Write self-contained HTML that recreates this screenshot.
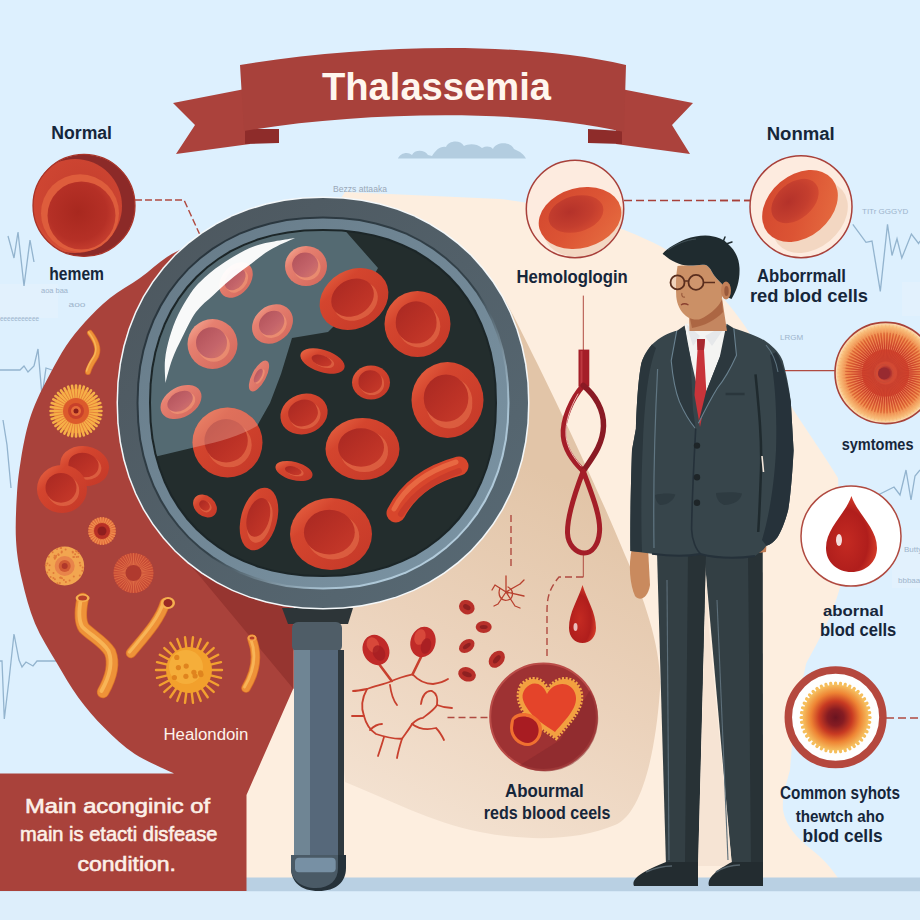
<!DOCTYPE html>
<html><head><meta charset="utf-8">
<style>
html,body{margin:0;padding:0;width:920px;height:920px;overflow:hidden;background:#ddf0fe;}
svg{display:block;}
text{font-family:"Liberation Sans",sans-serif;}
</style></head>
<body>
<svg width="920" height="920" viewBox="0 0 920 920">
<defs>
  <radialGradient id="rbc" cx="0.45" cy="0.45" r="0.55">
    <stop offset="0" stop-color="#b3302a"/>
    <stop offset="0.5" stop-color="#c23a2d"/>
    <stop offset="0.72" stop-color="#e4653f"/>
    <stop offset="0.86" stop-color="#d74a31"/>
    <stop offset="1" stop-color="#c63d2c"/>
  </radialGradient>
  <radialGradient id="rbcL" cx="0.45" cy="0.45" r="0.55">
    <stop offset="0" stop-color="#b85a55"/>
    <stop offset="0.5" stop-color="#c66258"/>
    <stop offset="0.72" stop-color="#e98a70"/>
    <stop offset="0.86" stop-color="#d86a55"/>
    <stop offset="1" stop-color="#cc5c4c"/>
  </radialGradient>
  <radialGradient id="big1" cx="0.45" cy="0.55" r="0.55">
    <stop offset="0" stop-color="#a92a22"/>
    <stop offset="0.55" stop-color="#b8342a"/>
    <stop offset="0.75" stop-color="#e0603f"/>
    <stop offset="0.9" stop-color="#cf4530"/>
    <stop offset="1" stop-color="#c23b2c"/>
  </radialGradient>
  <radialGradient id="sun" cx="0.5" cy="0.5" r="0.5">
    <stop offset="0" stop-color="#9a2a2e"/>
    <stop offset="0.1" stop-color="#a83030"/>
    <stop offset="0.16" stop-color="#d24a34"/>
    <stop offset="0.5" stop-color="#d4442c"/>
    <stop offset="0.75" stop-color="#ec7a3c"/>
    <stop offset="0.92" stop-color="#f8c07c"/>
    <stop offset="1" stop-color="#fde6c4"/>
  </radialGradient>
  <radialGradient id="spot" cx="0.5" cy="0.5" r="0.5">
    <stop offset="0" stop-color="#6a1420"/>
    <stop offset="0.25" stop-color="#861c22"/>
    <stop offset="0.5" stop-color="#c83a22"/>
    <stop offset="0.75" stop-color="#ee8434"/>
    <stop offset="1" stop-color="#f6c060"/>
  </radialGradient>
  <radialGradient id="drop" cx="0.4" cy="0.6" r="0.6">
    <stop offset="0" stop-color="#c42a22"/>
    <stop offset="0.7" stop-color="#b01e1c"/>
    <stop offset="1" stop-color="#d23a28"/>
  </radialGradient>
  <linearGradient id="creamg" x1="0" y1="0" x2="0" y2="1">
    <stop offset="0" stop-color="#fbe9d9"/>
    <stop offset="1" stop-color="#fcefe3"/>
  </linearGradient>
  <linearGradient id="bandg" x1="0" y1="0" x2="1" y2="1">
    <stop offset="0" stop-color="#667a87"/><stop offset="1" stop-color="#7c95a5"/>
  </linearGradient>
  <linearGradient id="cO" x1="0" y1="0" x2="1" y2="1">
    <stop offset="0" stop-color="#ec6c48"/><stop offset="0.3" stop-color="#d4452e"/><stop offset="1" stop-color="#c43828"/>
  </linearGradient>
  <linearGradient id="cI" x1="0" y1="0" x2="1" y2="1">
    <stop offset="0" stop-color="#a82822"/><stop offset="0.6" stop-color="#bc3226"/><stop offset="1" stop-color="#c83a2a"/>
  </linearGradient>
  <linearGradient id="cOL" x1="0" y1="0" x2="1" y2="1">
    <stop offset="0" stop-color="#f9b49c"/><stop offset="0.3" stop-color="#e68070"/><stop offset="1" stop-color="#d2665a"/>
  </linearGradient>
  <linearGradient id="cIL" x1="0" y1="0" x2="1" y2="1">
    <stop offset="0" stop-color="#b05058"/><stop offset="0.6" stop-color="#c4646a"/><stop offset="1" stop-color="#d8786c"/>
  </linearGradient>
  <linearGradient id="r1g" x1="0" y1="0" x2="1" y2="1">
    <stop offset="0" stop-color="#4c565d"/><stop offset="1" stop-color="#586a75"/>
  </linearGradient>
  <linearGradient id="r2g" x1="0" y1="0" x2="1" y2="1">
    <stop offset="0" stop-color="#26323a"/><stop offset="0.55" stop-color="#34424a"/><stop offset="0.75" stop-color="#a8c2d2"/><stop offset="1" stop-color="#c0d8e8"/>
  </linearGradient>
  <linearGradient id="shadg" gradientUnits="userSpaceOnUse" x1="600" y1="500" x2="440" y2="830">
    <stop offset="0" stop-color="#e2c5a8"/><stop offset="0.5" stop-color="#ebd2bb"/><stop offset="1" stop-color="#f3e1d0"/>
  </linearGradient>
  <radialGradient id="c1g" cx="0.6" cy="0.4" r="0.7">
    <stop offset="0" stop-color="#c43e2e"/><stop offset="0.8" stop-color="#cf4632"/><stop offset="1" stop-color="#e2603e"/>
  </radialGradient>
  <radialGradient id="c1i" cx="0.45" cy="0.45" r="0.6">
    <stop offset="0" stop-color="#a8281f"/><stop offset="0.7" stop-color="#b53026"/><stop offset="1" stop-color="#c84030"/>
  </radialGradient>
  <linearGradient id="bigO" x1="0" y1="0" x2="1" y2="1">
    <stop offset="0" stop-color="#d2462e"/><stop offset="0.5" stop-color="#dc5434"/><stop offset="0.85" stop-color="#e4683e"/><stop offset="1" stop-color="#c84030"/>
  </linearGradient>
  <radialGradient id="bigI" cx="0.4" cy="0.4" r="0.7">
    <stop offset="0" stop-color="#b4322a"/><stop offset="0.6" stop-color="#c43e2e"/><stop offset="1" stop-color="#d64c32"/>
  </radialGradient>
  <clipPath id="lensclip"><path d="M495.0 403.0 L494.4 421.7 L492.6 438.0 L489.7 453.3 L485.5 467.9 L480.3 481.6 L473.9 494.6 L466.5 506.8 L458.0 518.1 L448.5 528.5 L438.1 538.0 L426.8 546.5 L414.6 553.9 L401.6 560.3 L387.9 565.5 L373.3 569.7 L358.0 572.6 L341.7 574.4 L323.0 575.0 L304.3 574.4 L288.0 572.6 L272.7 569.7 L258.1 565.5 L244.4 560.3 L231.4 553.9 L219.2 546.5 L207.9 538.0 L197.5 528.5 L188.0 518.1 L179.5 506.8 L172.1 494.6 L165.7 481.6 L160.5 467.9 L156.3 453.3 L153.4 438.0 L151.6 421.7 L151.0 403.0 L151.6 384.3 L153.4 368.0 L156.3 352.7 L160.5 338.1 L165.7 324.4 L172.1 311.4 L179.5 299.2 L188.0 287.9 L197.5 277.5 L207.9 268.0 L219.2 259.5 L231.4 252.1 L244.4 245.7 L258.1 240.5 L272.7 236.3 L288.0 233.4 L304.3 231.6 L323.0 231.0 L341.7 231.6 L358.0 233.4 L373.3 236.3 L387.9 240.5 L401.6 245.7 L414.6 252.1 L426.8 259.5 L438.1 268.0 L448.5 277.5 L458.0 287.9 L466.5 299.2 L473.9 311.4 L480.3 324.4 L485.5 338.1 L489.7 352.7 L492.6 368.0 L494.4 384.3 Z"/></clipPath>
</defs>

<!-- background -->
<rect width="920" height="920" fill="#ddf0fe"/>

<!-- faint panels -->
<g fill="#e6f2fb" opacity="0.6">
  <rect x="0" y="284" width="58" height="34"/>
  <rect x="902" y="282" width="18" height="34"/>
  <rect x="892" y="530" width="28" height="58"/>
</g>
<!-- faint ECG lines -->
<g fill="none" stroke="#86a9c6" stroke-width="1.3" opacity="0.85">
  <path d="M8 236 L14 258 L18 232 L24 286 L30 240 L34 262"/>
  <path d="M0 370 L20 370 L24 366 L28 372 L34 366 L38 349 L42 396 L46 368 L52 370"/>
  <path d="M3 420 L7 445 L11 488"/>
  <path d="M0 661 L2 661 L4.3 719 L9 680 L14 634 L19 660 L22 667 L26 662 L33 666 L37 661 L56 661"/>
  <path d="M852.8 224.4 L866 242.3 L872 241 L880.3 291.4 L887.5 224.4 L892 255.5 L897 238.8 L901.8 258 L911.4 234 L918.6 243.5 L920 241"/>
  <path d="M876 496 L884 492 L894 487 L900 495 L906 470 L911 500 L915 476 L920 470"/>
</g>
<g font-size="8" fill="#8ea6bf" opacity="0.8" font-family="Liberation Serif, serif">
  <text x="862" y="214">TITr GGGYD</text>
  <text x="41" y="293" textLength="27" lengthAdjust="spacingAndGlyphs">aoa baa</text>
  <text x="68.5" y="306.5" textLength="17" lengthAdjust="spacingAndGlyphs">aoo</text>
  <text x="0" y="320.5" textLength="39" lengthAdjust="spacingAndGlyphs">eeeeeeeeeee</text>
  <text x="904" y="552">Butty</text>
  <text x="898" y="583">bbbaaa</text>
  <text x="780" y="340">LRGM</text>
</g>
<!-- cream background shape -->
<path d="M345 192 L500 199 C560 205 620 225 660 246 C700 268 740 310 765 360 C785 402 815 440 838 478 L842 580 C832 620 814 648 806 664 C798 700 792 740 790 770 C786 785 782 795 783 810 C786 828 800 840 812 850 C822 858 830 866 838 878 L246 878 L246 700 L300 260 Z" fill="#fdeedf"/>
<!-- darker shadow region -->
<path d="M505 300 L513 315 C540 368 590 470 625 555 C645 600 662 650 660 690 C655 760 640 815 615 825 C580 840 530 842 480 832 C430 822 390 800 345 782 L330 600 Z" fill="url(#shadg)"/>

<!-- floor -->
<rect x="0" y="877.5" width="920" height="14" fill="#b9d0e3"/>
<rect x="0" y="891.5" width="920" height="28.5" fill="#ddeefb"/>

<!-- red blob -->
<path d="M192.0 244.0 C187.8 246.2 175.7 251.3 167.0 257.0 C158.3 262.7 149.5 271.2 140.0 278.0 C130.5 284.8 119.2 290.7 110.0 298.0 C100.8 305.3 92.3 314.0 85.0 322.0 C77.7 330.0 71.8 337.3 66.0 346.0 C60.2 354.7 54.8 365.0 50.0 374.0 C45.2 383.0 40.7 391.5 37.0 400.0 C33.3 408.5 30.7 415.2 28.0 425.0 C25.3 434.8 22.8 447.7 21.0 459.0 C19.2 470.3 17.8 479.5 17.0 493.0 C16.2 506.5 15.2 525.5 16.0 540.0 C16.8 554.5 18.8 566.1 22.0 580.0 C25.2 593.9 29.2 609.7 35.0 623.5 C40.8 637.3 49.3 650.3 56.5 662.6 C63.7 674.9 70.3 686.5 78.3 697.4 C86.3 708.3 94.9 718.4 104.3 727.8 C113.7 737.2 123.2 746.4 134.8 754.0 C146.4 761.6 167.5 770.2 174.0 773.5 L0 773.5 L0 891 L246.5 891 L246.5 795 L293.5 688 L293.5 560 L260 430 Z" fill="#a9423b"/>
<!-- magnifier shadow wedge on red -->
<path d="M185 560 L198 574 L293.5 689 L293.5 560 Z" fill="#963530"/>

<!-- banner -->
<g>
  <path d="M173 103 L250 88 L250 144 L176 154 L195 125 Z" fill="#ab423c"/>
  <path d="M616 88 L693 103 L672 125 L690 154 L616 144 Z" fill="#ab423c"/>
  <path d="M245 129 L279 129 L279 143 L245 144 Z" fill="#8e2c2a"/>
  <path d="M588 129 L622 131 L622 144 L588 143 Z" fill="#8e2c2a"/>
  <path d="M240 65 C360 45 520 40 626 65 L624 132 C520 108 360 112 244 131 Z" fill="#a8413b"/>
  <text x="322" y="100" font-size="39" font-weight="bold" fill="#fff6ee" textLength="229" lengthAdjust="spacingAndGlyphs">Thalassemia</text>
</g>
<!-- cloud -->
<path d="M398 158.4 C400 153 408 151 412 155 C414 150 424 149 428 155 L432 156 C436 150 440 146 446 147 C448 141 460 139 464 146 C468 144 476 143 482 148 C486 146 490 146 493 149 C496 142 510 141 514 149 C518 151 522 152 526 158.4 Z" fill="#b3cde0"/>

<!-- small faint text -->
<text x="333" y="192" font-size="9" fill="#9aa8b8" textLength="54" lengthAdjust="spacingAndGlyphs">Bezzs attaaka</text>

<!-- left top cell circle -->
<g>
  <clipPath id="c1clip"><circle cx="84" cy="205.4" r="51"/></clipPath>
  <circle cx="84" cy="205.4" r="51" fill="#8c2a28"/>
  <g clip-path="url(#c1clip)">
    <circle cx="75" cy="206" r="47" fill="url(#c1g)"/>
  </g>
  <circle cx="84" cy="205.4" r="51" fill="none" stroke="#a93428" stroke-width="1.3"/>
  <circle cx="80" cy="213.2" r="39" fill="#de5d3c"/>
  <circle cx="81.5" cy="215.5" r="34" fill="url(#c1i)"/>
</g>
<path d="M135 200 L184 200 L200 235" fill="none" stroke="#b04a40" stroke-width="1.4" stroke-dasharray="7 3"/>
<text x="51.3" y="139.3" font-size="17.5" font-weight="bold" fill="#16263a" textLength="60.7" lengthAdjust="spacingAndGlyphs">Normal</text>
<text x="49.3" y="280" font-size="18" font-weight="bold" fill="#16263a" textLength="54.7" lengthAdjust="spacingAndGlyphs">hemem</text>

<!-- red blob items -->
<circle cx="76" cy="411" r="22" fill="#f0a03c"/>
<path d="M88.0 411.0L101.5 411.0M87.9 412.9L101.2 415.0M87.4 414.7L100.3 418.9M86.7 416.4L98.7 422.6M85.7 418.1L96.6 426.0M84.5 419.5L94.0 429.0M83.1 420.7L91.0 431.6M81.4 421.7L87.6 433.7M79.7 422.4L83.9 435.3M77.9 422.9L80.0 436.2M76.0 423.0L76.0 436.5M74.1 422.9L72.0 436.2M72.3 422.4L68.1 435.3M70.6 421.7L64.4 433.7M68.9 420.7L61.0 431.6M67.5 419.5L58.0 429.0M66.3 418.1L55.4 426.0M65.3 416.4L53.3 422.6M64.6 414.7L51.7 418.9M64.1 412.9L50.8 415.0M64.0 411.0L50.5 411.0M64.1 409.1L50.8 407.0M64.6 407.3L51.7 403.1M65.3 405.6L53.3 399.4M66.3 403.9L55.4 396.0M67.5 402.5L58.0 393.0M68.9 401.3L61.0 390.4M70.6 400.3L64.4 388.3M72.3 399.6L68.1 386.7M74.1 399.1L72.0 385.8M76.0 399.0L76.0 385.5M77.9 399.1L80.0 385.8M79.7 399.6L83.9 386.7M81.4 400.3L87.6 388.3M83.1 401.3L91.0 390.4M84.5 402.5L94.0 393.0M85.7 403.9L96.6 396.0M86.7 405.6L98.7 399.4M87.4 407.3L100.3 403.1M87.9 409.1L101.2 407.0" stroke="#f6b048" stroke-width="2.6" stroke-linecap="round" fill="none"/>
<path d="M88.0 412.0L97.9 412.8M87.7 413.8L97.4 416.2M87.1 415.6L96.3 419.4M86.2 417.3L94.7 422.5M85.1 418.8L92.7 425.3M83.8 420.1L90.3 427.7M82.3 421.2L87.5 429.8M80.6 422.1L84.4 431.3M78.8 422.7L81.1 432.4M76.9 423.0L77.7 432.9M75.0 423.0L74.2 432.9M73.2 422.7L70.8 432.4M71.4 422.1L67.6 431.3M69.7 421.2L64.5 429.7M68.2 420.1L61.7 427.7M66.9 418.8L59.3 425.3M65.8 417.3L57.2 422.5M64.9 415.6L55.7 419.4M64.3 413.8L54.6 416.1M64.0 411.9L54.1 412.7M64.0 410.0L54.1 409.2M64.3 408.2L54.6 405.8M64.9 406.4L55.7 402.6M65.8 404.7L57.3 399.5M66.9 403.2L59.3 396.7M68.2 401.9L61.7 394.3M69.7 400.8L64.5 392.2M71.4 399.9L67.6 390.7M73.2 399.3L70.9 389.6M75.1 399.0L74.3 389.1M77.0 399.0L77.8 389.1M78.8 399.3L81.2 389.6M80.6 399.9L84.4 390.7M82.3 400.8L87.5 392.3M83.8 401.9L90.3 394.3M85.1 403.2L92.7 396.7M86.2 404.7L94.8 399.5M87.1 406.4L96.3 402.6M87.7 408.2L97.4 405.9M88.0 410.1L97.9 409.3" stroke="#e8843a" stroke-width="1.0" stroke-linecap="round" fill="none"/>
<circle cx="76" cy="411" r="13" fill="#dc5a2c"/>
<circle cx="76" cy="411" r="8" fill="#c8402a"/>
<circle cx="76" cy="411" r="5" fill="#e66c3a"/>
<circle cx="76" cy="411" r="2.5" fill="#8a1e1a"/>
<path d="M108.6 470.3 A24.5 19 10 1 1 60.4 461.7 A24.5 19 10 1 1 108.6 470.3Z" fill="url(#cO)"/><path d="M101.2 470.1 A15.68 12.16 10 1 1 70.3 464.6 A15.68 12.16 10 1 1 101.2 470.1Z" fill="#ea7650" opacity="0.55"/><path d="M98.5 467.7 A15.19 11.78 10 1 1 68.6 462.4 A15.19 11.78 10 1 1 98.5 467.7Z" fill="url(#cI)"/><path d="M87.0 489.0 A25 24 0 1 1 37.0 489.0 A25 24 0 1 1 87.0 489.0Z" fill="url(#cO)"/><path d="M79.2 490.7 A16.0 15.36 0 1 1 47.2 490.7 A16.0 15.36 0 1 1 79.2 490.7Z" fill="#ea7650" opacity="0.55"/><path d="M76.5 487.8 A15.5 14.879999999999999 0 1 1 45.5 487.8 A15.5 14.879999999999999 0 1 1 76.5 487.8Z" fill="url(#cI)"/>
<circle cx="102" cy="531" r="13.7" fill="#e06a3a"/>
<path d="M111.0 531.0L115.5 531.0M110.8 532.9L115.2 533.8M110.2 534.7L114.3 536.5M109.3 536.3L112.9 538.9M108.0 537.7L111.0 541.0M106.5 538.8L108.8 542.7M104.8 539.6L106.2 543.8M102.9 540.0L103.4 544.4M101.1 540.0L100.6 544.4M99.2 539.6L97.8 543.8M97.5 538.8L95.2 542.7M96.0 537.7L93.0 541.0M94.7 536.3L91.1 538.9M93.8 534.7L89.7 536.5M93.2 532.9L88.8 533.8M93.0 531.0L88.5 531.0M93.2 529.1L88.8 528.2M93.8 527.3L89.7 525.5M94.7 525.7L91.1 523.1M96.0 524.3L93.0 521.0M97.5 523.2L95.2 519.3M99.2 522.4L97.8 518.2M101.1 522.0L100.6 517.6M102.9 522.0L103.4 517.6M104.8 522.4L106.2 518.2M106.5 523.2L108.8 519.3M108.0 524.3L111.0 521.0M109.3 525.7L112.9 523.1M110.2 527.3L114.3 525.5M110.8 529.1L115.2 528.2" stroke="#f09050" stroke-width="1.2" stroke-linecap="round" fill="none"/>
<circle cx="102" cy="531" r="8" fill="#b83026"/>
<circle cx="102" cy="531" r="4.5" fill="#8e1e1e"/>
<circle cx="64.7" cy="566" r="19.5" fill="#f2a650"/>
<g fill="#e07a3a"><circle cx="65.9" cy="582.1" r="1.0"/><circle cx="53.4" cy="578.1" r="1.0"/><circle cx="55.8" cy="557.1" r="1.0"/><circle cx="82.7" cy="567.5" r="1.0"/><circle cx="63.9" cy="579.9" r="1.0"/><circle cx="80.4" cy="565.6" r="1.0"/><circle cx="72.8" cy="552.5" r="1.0"/><circle cx="56.2" cy="555.8" r="1.0"/><circle cx="52.6" cy="552.3" r="1.0"/><circle cx="47.4" cy="563.5" r="1.0"/><circle cx="58.7" cy="554.9" r="1.0"/><circle cx="65.6" cy="549.5" r="1.0"/><circle cx="60.8" cy="577.6" r="1.0"/><circle cx="75.1" cy="554.3" r="1.0"/><circle cx="61.1" cy="548.1" r="1.0"/><circle cx="60.6" cy="547.9" r="1.0"/><circle cx="50.6" cy="576.9" r="1.0"/><circle cx="47.2" cy="572.4" r="1.0"/><circle cx="74.0" cy="557.1" r="1.0"/><circle cx="73.8" cy="576.4" r="1.0"/><circle cx="79.8" cy="562.7" r="1.0"/><circle cx="54.6" cy="555.7" r="1.0"/><circle cx="49.6" cy="565.3" r="1.0"/><circle cx="54.9" cy="579.3" r="1.0"/><circle cx="48.8" cy="556.7" r="1.0"/><circle cx="57.0" cy="549.1" r="1.0"/><circle cx="76.4" cy="551.1" r="1.0"/><circle cx="58.3" cy="554.2" r="1.0"/><circle cx="76.7" cy="551.6" r="1.0"/><circle cx="78.2" cy="556.8" r="1.0"/><circle cx="61.6" cy="552.6" r="1.0"/><circle cx="72.7" cy="551.7" r="1.0"/><circle cx="62.0" cy="578.3" r="1.0"/><circle cx="76.2" cy="551.0" r="1.0"/><circle cx="79.8" cy="575.4" r="1.0"/><circle cx="53.5" cy="573.1" r="1.0"/><circle cx="59.9" cy="583.0" r="1.0"/><circle cx="73.3" cy="557.1" r="1.0"/><circle cx="55.4" cy="557.8" r="1.0"/><circle cx="61.8" cy="551.6" r="1.0"/><circle cx="78.5" cy="553.1" r="1.0"/><circle cx="45.7" cy="565.4" r="1.0"/><circle cx="60.1" cy="577.8" r="1.0"/><circle cx="54.8" cy="558.8" r="1.0"/><circle cx="69.6" cy="580.4" r="1.0"/><circle cx="54.4" cy="557.5" r="1.0"/><circle cx="82.3" cy="570.8" r="1.0"/><circle cx="57.4" cy="583.3" r="1.0"/><circle cx="76.7" cy="556.9" r="1.0"/><circle cx="49.2" cy="569.9" r="1.0"/></g>
<circle cx="64.7" cy="566" r="10" fill="#e8844a"/>
<circle cx="64.7" cy="566" r="6" fill="#d05a34"/>
<circle cx="64.7" cy="566" r="3" fill="#b0382a"/>
<circle cx="133.5" cy="573" r="20" fill="#c94c36"/>
<path d="M139.5 573.0L153.0 573.0M139.4 573.9L152.8 575.8M139.3 574.7L152.2 578.5M139.0 575.5L151.2 581.1M138.5 576.2L149.9 583.5M138.0 576.9L148.2 585.8M137.4 577.5L146.3 587.7M136.7 578.0L144.0 589.4M136.0 578.5L141.6 590.7M135.2 578.8L139.0 591.7M134.4 578.9L136.3 592.3M133.5 579.0L133.5 592.5M132.6 578.9L130.7 592.3M131.8 578.8L128.0 591.7M131.0 578.5L125.4 590.7M130.3 578.0L123.0 589.4M129.6 577.5L120.7 587.7M129.0 576.9L118.8 585.8M128.5 576.2L117.1 583.5M128.0 575.5L115.8 581.1M127.7 574.7L114.8 578.5M127.6 573.9L114.2 575.8M127.5 573.0L114.0 573.0M127.6 572.1L114.2 570.2M127.7 571.3L114.8 567.5M128.0 570.5L115.8 564.9M128.5 569.8L117.1 562.5M129.0 569.1L118.8 560.2M129.6 568.5L120.7 558.3M130.3 568.0L123.0 556.6M131.0 567.5L125.4 555.3M131.8 567.2L128.0 554.3M132.6 567.1L130.7 553.7M133.5 567.0L133.5 553.5M134.4 567.1L136.3 553.7M135.2 567.2L139.0 554.3M136.0 567.5L141.6 555.3M136.7 568.0L144.0 556.6M137.4 568.5L146.3 558.3M138.0 569.1L148.2 560.2M138.5 569.8L149.9 562.5M139.0 570.5L151.2 564.9M139.3 571.3L152.2 567.5M139.4 572.1L152.8 570.2" stroke="#dd6a44" stroke-width="1.0" stroke-linecap="round" fill="none"/>
<circle cx="133.5" cy="573" r="8" fill="#b03a2e"/>
<path d="M82.6 599 C80 612 80 622 84 628 C92 636 104 642 110 652 C114 662 112 676 103 692" fill="none" stroke="#d86e2a" stroke-width="12.5" stroke-linecap="round"/><path d="M82.6 599 C80 612 80 622 84 628 C92 636 104 642 110 652 C114 662 112 676 103 692" fill="none" stroke="#ee9238" stroke-width="11" stroke-linecap="round"/><path d="M82.6 599 C80 612 80 622 84 628 C92 636 104 642 110 652 C114 662 112 676 103 692" fill="none" stroke="#f8b456" stroke-width="3.8" stroke-linecap="round" transform="translate(-1.5 -1)"/>
<ellipse cx="82.6" cy="598" rx="7" ry="4" fill="#f6b050"/><ellipse cx="82.6" cy="598" rx="4.5" ry="2.5" fill="#b8402a"/>
<path d="M165 603 C160 620 145 636 131 653" fill="none" stroke="#d86e2a" stroke-width="10.5" stroke-linecap="round"/><path d="M165 603 C160 620 145 636 131 653" fill="none" stroke="#ee9238" stroke-width="9" stroke-linecap="round"/><path d="M165 603 C160 620 145 636 131 653" fill="none" stroke="#f8b456" stroke-width="3.1" stroke-linecap="round" transform="translate(-1.5 -1)"/>
<ellipse cx="168" cy="603" rx="7" ry="6" fill="#f6b050"/><ellipse cx="168" cy="603" rx="4.5" ry="4" fill="#9a2a24"/>
<path d="M252 639 C257 652 258 668 246 688" fill="none" stroke="#d86e2a" stroke-width="9.5" stroke-linecap="round"/><path d="M252 639 C257 652 258 668 246 688" fill="none" stroke="#ee9238" stroke-width="8" stroke-linecap="round"/><path d="M252 639 C257 652 258 668 246 688" fill="none" stroke="#f8b456" stroke-width="2.8" stroke-linecap="round" transform="translate(-1.5 -1)"/>
<ellipse cx="252" cy="638" rx="4.5" ry="3" fill="#f4a24a"/><ellipse cx="252" cy="638" rx="2.5" ry="1.6" fill="#b8402a"/>
<path d="M90 333 C97 342 100 350 95 358 C91 364 89 368 88 372" fill="none" stroke="#d86e2a" stroke-width="6.0" stroke-linecap="round"/><path d="M90 333 C97 342 100 350 95 358 C91 364 89 368 88 372" fill="none" stroke="#ee9238" stroke-width="4.5" stroke-linecap="round"/><path d="M90 333 C97 342 100 350 95 358 C91 364 89 368 88 372" fill="none" stroke="#f8b456" stroke-width="1.6" stroke-linecap="round" transform="translate(-1.5 -1)"/>
<path d="M209.0 670.0L222.0 670.0M208.4 674.8L221.0 677.9M206.7 679.3L218.2 685.3M204.0 683.3L213.7 691.9M200.4 686.5L207.7 697.2M196.1 688.7L200.7 700.9M191.4 689.9L193.0 702.8M186.6 689.9L185.0 702.8M181.9 688.7L177.3 700.9M177.6 686.5L170.3 697.2M174.0 683.3L164.3 691.9M171.3 679.3L159.8 685.3M169.6 674.8L157.0 677.9M169.0 670.0L156.0 670.0M169.6 665.2L157.0 662.1M171.3 660.7L159.8 654.7M174.0 656.7L164.3 648.1M177.6 653.5L170.3 642.8M181.9 651.3L177.3 639.1M186.6 650.1L185.0 637.2M191.4 650.1L193.0 637.2M196.1 651.3L200.7 639.1M200.4 653.5L207.7 642.8M204.0 656.7L213.7 648.1M206.7 660.7L218.2 654.7M208.4 665.2L221.0 662.1" stroke="#f2a030" stroke-width="2.4" stroke-linecap="round" fill="none"/>
<circle cx="189" cy="670" r="23" fill="#f2a02c"/>
<circle cx="186" cy="667" r="17" fill="#f7b440" opacity="0.7"/>
<g fill="#e0841e"><circle cx="185.9" cy="676.3" r="2.6"/><circle cx="186.2" cy="666.1" r="2.6"/><circle cx="178.4" cy="667.6" r="2.6"/><circle cx="201.0" cy="674.6" r="2.6"/><circle cx="200.5" cy="672.8" r="2.6"/><circle cx="193.9" cy="672.3" r="2.6"/><circle cx="174.4" cy="677.5" r="2.6"/><circle cx="195.1" cy="676.0" r="2.6"/><circle cx="176.8" cy="657.4" r="2.6"/></g>
<text x="163.5" y="740" font-size="16" fill="#fdf2ea" textLength="84.9" lengthAdjust="spacingAndGlyphs">Healondoin</text>
<text x="25" y="813" font-size="20.5" fill="#fcf0e8" textLength="185.0" lengthAdjust="spacingAndGlyphs" stroke="#fcf0e8" stroke-width="0.6">Main aconginic of</text>
<text x="20" y="841.3" font-size="20.5" fill="#fcf0e8" textLength="197.5" lengthAdjust="spacingAndGlyphs" stroke="#fcf0e8" stroke-width="0.6">main is etacti disfease</text>
<text x="77.5" y="871.3" font-size="20.5" fill="#fcf0e8" textLength="98.5" lengthAdjust="spacingAndGlyphs" stroke="#fcf0e8" stroke-width="0.6">condition.</text>

<!-- magnifier handle -->
<g>
  <path d="M282 608 L353 608 L348 624 L288 624 Z" fill="#2d3538"/>
  <rect x="292" y="622" width="50" height="30" rx="6" fill="#4f5d67"/>
  <rect x="294" y="650" width="50" height="206" fill="#56687a"/>
  <rect x="294" y="650" width="16" height="206" fill="#6f8594"/>
  <rect x="338" y="650" width="6" height="206" fill="#2f393f"/>
  <path d="M291 855 L346 855 L346 868 C346 882 336 891 318.5 891 C301 891 291 882 291 868 Z" fill="#26323a"/>
  <path d="M291 855 L338 855 L338 868 C338 880 330 888 316 888 C301 888 291 880 291 868 Z" fill="#4a5a66"/>
  <rect x="295" y="857.8" width="40.7" height="14.4" rx="4" fill="#7790a4"/>
</g>

<!-- magnifier ring -->
<path d="M529.5 403.0 L528.8 423.2 L526.5 442.0 L522.8 460.0 L517.6 477.3 L511.0 493.9 L503.1 509.7 L493.8 524.6 L483.2 538.6 L471.4 551.4 L458.6 563.2 L444.6 573.8 L429.7 583.1 L413.9 591.0 L397.3 597.6 L380.0 602.8 L362.0 606.5 L343.2 608.8 L323.0 609.5 L302.8 608.8 L284.0 606.5 L266.0 602.8 L248.7 597.6 L232.1 591.0 L216.3 583.1 L201.4 573.8 L187.4 563.2 L174.6 551.4 L162.8 538.6 L152.2 524.6 L142.9 509.7 L135.0 493.9 L128.4 477.3 L123.2 460.0 L119.5 442.0 L117.2 423.2 L116.5 403.0 L117.2 382.8 L119.5 364.0 L123.2 346.0 L128.4 328.7 L135.0 312.1 L142.9 296.3 L152.2 281.4 L162.8 267.4 L174.6 254.6 L187.4 242.8 L201.4 232.2 L216.3 222.9 L232.1 215.0 L248.7 208.4 L266.0 203.2 L284.0 199.5 L302.8 197.2 L323.0 196.5 L343.2 197.2 L362.0 199.5 L380.0 203.2 L397.3 208.4 L413.9 215.0 L429.7 222.9 L444.6 232.2 L458.6 242.8 L471.4 254.6 L483.2 267.4 L493.8 281.4 L503.1 296.3 L511.0 312.1 L517.6 328.7 L522.8 346.0 L526.5 364.0 L528.8 382.8 Z" fill="#f4f8fa"/>
<path d="M528.0 403.0 L527.3 423.1 L525.0 441.7 L521.3 459.6 L516.2 476.8 L509.7 493.3 L501.8 508.9 L492.5 523.7 L482.0 537.6 L470.4 550.4 L457.6 562.0 L443.7 572.5 L428.9 581.8 L413.3 589.7 L396.8 596.2 L379.6 601.3 L361.7 605.0 L343.1 607.3 L323.0 608.0 L302.9 607.3 L284.3 605.0 L266.4 601.3 L249.2 596.2 L232.7 589.7 L217.1 581.8 L202.3 572.5 L188.4 562.0 L175.6 550.4 L164.0 537.6 L153.5 523.7 L144.2 508.9 L136.3 493.3 L129.8 476.8 L124.7 459.6 L121.0 441.7 L118.7 423.1 L118.0 403.0 L118.7 382.9 L121.0 364.3 L124.7 346.4 L129.8 329.2 L136.3 312.7 L144.2 297.1 L153.5 282.3 L164.0 268.4 L175.6 255.6 L188.4 244.0 L202.3 233.5 L217.1 224.2 L232.7 216.3 L249.2 209.8 L266.4 204.7 L284.3 201.0 L302.9 198.7 L323.0 198.0 L343.1 198.7 L361.7 201.0 L379.6 204.7 L396.8 209.8 L413.3 216.3 L428.9 224.2 L443.7 233.5 L457.6 244.0 L470.4 255.6 L482.0 268.4 L492.5 282.3 L501.8 297.1 L509.7 312.7 L516.2 329.2 L521.3 346.4 L525.0 364.3 L527.3 382.9 Z" fill="url(#r1g)"/>
<path d="M509.5 403.0 L508.8 422.3 L506.9 439.6 L503.6 456.0 L499.0 471.7 L493.2 486.7 L486.1 500.9 L477.9 514.2 L468.5 526.6 L458.1 538.1 L446.6 548.5 L434.2 557.9 L420.9 566.1 L406.7 573.2 L391.7 579.0 L376.0 583.6 L359.6 586.9 L342.3 588.8 L323.0 589.5 L303.7 588.8 L286.4 586.9 L270.0 583.6 L254.3 579.0 L239.3 573.2 L225.1 566.1 L211.8 557.9 L199.4 548.5 L187.9 538.1 L177.5 526.6 L168.1 514.2 L159.9 500.9 L152.8 486.7 L147.0 471.7 L142.4 456.0 L139.1 439.6 L137.2 422.3 L136.5 403.0 L137.2 383.7 L139.1 366.4 L142.4 350.0 L147.0 334.3 L152.8 319.3 L159.9 305.1 L168.1 291.8 L177.5 279.4 L187.9 267.9 L199.4 257.5 L211.8 248.1 L225.1 239.9 L239.3 232.8 L254.3 227.0 L270.0 222.4 L286.4 219.1 L303.7 217.2 L323.0 216.5 L342.3 217.2 L359.6 219.1 L376.0 222.4 L391.7 227.0 L406.7 232.8 L420.9 239.9 L434.2 248.1 L446.6 257.5 L458.1 267.9 L468.5 279.4 L477.9 291.8 L486.1 305.1 L493.2 319.3 L499.0 334.3 L503.6 350.0 L506.9 366.4 L508.8 383.7 Z" fill="url(#r2g)"/>
<path d="M507.5 403.0 L506.8 422.1 L504.9 439.2 L501.6 455.5 L497.1 471.0 L491.4 485.8 L484.4 499.8 L476.3 513.0 L467.0 525.3 L456.7 536.7 L445.3 547.0 L433.0 556.3 L419.8 564.4 L405.8 571.4 L391.0 577.1 L375.5 581.6 L359.2 584.9 L342.1 586.8 L323.0 587.5 L303.9 586.8 L286.8 584.9 L270.5 581.6 L255.0 577.1 L240.2 571.4 L226.2 564.4 L213.0 556.3 L200.7 547.0 L189.3 536.7 L179.0 525.3 L169.7 513.0 L161.6 499.8 L154.6 485.8 L148.9 471.0 L144.4 455.5 L141.1 439.2 L139.2 422.1 L138.5 403.0 L139.2 383.9 L141.1 366.8 L144.4 350.5 L148.9 335.0 L154.6 320.2 L161.6 306.2 L169.7 293.0 L179.0 280.7 L189.3 269.3 L200.7 259.0 L213.0 249.7 L226.2 241.6 L240.2 234.6 L255.0 228.9 L270.5 224.4 L286.8 221.1 L303.9 219.2 L323.0 218.5 L342.1 219.2 L359.2 221.1 L375.5 224.4 L391.0 228.9 L405.8 234.6 L419.8 241.6 L433.0 249.7 L445.3 259.0 L456.7 269.3 L467.0 280.7 L476.3 293.0 L484.4 306.2 L491.4 320.2 L497.1 335.0 L501.6 350.5 L504.9 366.8 L506.8 383.9 Z" fill="url(#bandg)"/>
<path d="M497.0 403.0 L496.4 421.9 L494.6 438.4 L491.6 453.9 L487.4 468.6 L482.1 482.5 L475.7 495.7 L468.1 508.0 L459.6 519.4 L450.0 530.0 L439.4 539.6 L428.0 548.1 L415.7 555.7 L402.5 562.1 L388.6 567.4 L373.9 571.6 L358.4 574.6 L341.9 576.4 L323.0 577.0 L304.1 576.4 L287.6 574.6 L272.1 571.6 L257.4 567.4 L243.5 562.1 L230.3 555.7 L218.0 548.1 L206.6 539.6 L196.0 530.0 L186.4 519.4 L177.9 508.0 L170.3 495.7 L163.9 482.5 L158.6 468.6 L154.4 453.9 L151.4 438.4 L149.6 421.9 L149.0 403.0 L149.6 384.1 L151.4 367.6 L154.4 352.1 L158.6 337.4 L163.9 323.5 L170.3 310.3 L177.9 298.0 L186.4 286.6 L196.0 276.0 L206.6 266.4 L218.0 257.9 L230.3 250.3 L243.5 243.9 L257.4 238.6 L272.1 234.4 L287.6 231.4 L304.1 229.6 L323.0 229.0 L341.9 229.6 L358.4 231.4 L373.9 234.4 L388.6 238.6 L402.5 243.9 L415.7 250.3 L428.0 257.9 L439.4 266.4 L450.0 276.0 L459.6 286.6 L468.1 298.0 L475.7 310.3 L482.1 323.5 L487.4 337.4 L491.6 352.1 L494.6 367.6 L496.4 384.1 Z" fill="#1c2628"/>
<path d="M495.0 403.0 L494.4 421.7 L492.6 438.0 L489.7 453.3 L485.5 467.9 L480.3 481.6 L473.9 494.6 L466.5 506.8 L458.0 518.1 L448.5 528.5 L438.1 538.0 L426.8 546.5 L414.6 553.9 L401.6 560.3 L387.9 565.5 L373.3 569.7 L358.0 572.6 L341.7 574.4 L323.0 575.0 L304.3 574.4 L288.0 572.6 L272.7 569.7 L258.1 565.5 L244.4 560.3 L231.4 553.9 L219.2 546.5 L207.9 538.0 L197.5 528.5 L188.0 518.1 L179.5 506.8 L172.1 494.6 L165.7 481.6 L160.5 467.9 L156.3 453.3 L153.4 438.0 L151.6 421.7 L151.0 403.0 L151.6 384.3 L153.4 368.0 L156.3 352.7 L160.5 338.1 L165.7 324.4 L172.1 311.4 L179.5 299.2 L188.0 287.9 L197.5 277.5 L207.9 268.0 L219.2 259.5 L231.4 252.1 L244.4 245.7 L258.1 240.5 L272.7 236.3 L288.0 233.4 L304.3 231.6 L323.0 231.0 L341.7 231.6 L358.0 233.4 L373.3 236.3 L387.9 240.5 L401.6 245.7 L414.6 252.1 L426.8 259.5 L438.1 268.0 L448.5 277.5 L458.0 287.9 L466.5 299.2 L473.9 311.4 L480.3 324.4 L485.5 338.1 L489.7 352.7 L492.6 368.0 L494.4 384.3 Z" fill="#232d2d"/>
<!-- lens content -->
<g clip-path="url(#lensclip)">
  <!-- lighter glass area -->
  <path id="ovl" d="M341 226 L378 268 L360 300 L328 332 L292 338 L281 374 L270 403 L257 426 C240 436 220 442 200 446 L150 458 L140 458 L140 220 Z" fill="#546a72"/>
  <!-- cells -->
    <path d="M248.9 264.7 A20 14 -50 1 1 223.1 295.3 A20 14 -50 1 1 248.9 264.7Z" fill="url(#cOL)"/><path d="M245.2 271.2 A12.8 8.96 -50 1 1 228.8 290.8 A12.8 8.96 -50 1 1 245.2 271.2Z" fill="#f5a07a" opacity="0.55"/><path d="M243.2 269.8 A12.4 8.68 -50 1 1 227.2 288.8 A12.4 8.68 -50 1 1 243.2 269.8Z" fill="url(#cIL)"/>
    <path d="M327.0 266.0 A21 20 0 1 1 285.0 266.0 A21 20 0 1 1 327.0 266.0Z" fill="url(#cOL)"/><path d="M320.5 267.4 A13.44 12.8 0 1 1 293.6 267.4 A13.44 12.8 0 1 1 320.5 267.4Z" fill="#f5a07a" opacity="0.55"/><path d="M318.2 265.0 A13.02 12.4 0 1 1 292.1 265.0 A13.02 12.4 0 1 1 318.2 265.0Z" fill="url(#cIL)"/>
    <path d="M385.2 281.0 A36 29 -30 1 1 322.8 317.0 A36 29 -30 1 1 385.2 281.0Z" fill="url(#cO)"/><path d="M375.8 289.5 A23.04 18.56 -30 1 1 335.8 312.5 A23.04 18.56 -30 1 1 375.8 289.5Z" fill="#ea7650" opacity="0.55"/><path d="M371.9 286.4 A22.32 17.98 -30 1 1 333.2 308.7 A22.32 17.98 -30 1 1 371.9 286.4Z" fill="url(#cI)"/>
    <path d="M450.5 324.0 A33 33 0 1 1 384.5 324.0 A33 33 0 1 1 450.5 324.0Z" fill="url(#cO)"/><path d="M440.3 326.3 A21.12 21.12 0 1 1 398.0 326.3 A21.12 21.12 0 1 1 440.3 326.3Z" fill="#ea7650" opacity="0.55"/><path d="M436.6 322.4 A20.46 20.46 0 1 1 395.7 322.4 A20.46 20.46 0 1 1 436.6 322.4Z" fill="url(#cI)"/>
    <path d="M237.5 344.0 A25 25 0 1 1 187.5 344.0 A25 25 0 1 1 237.5 344.0Z" fill="url(#cOL)"/><path d="M229.8 345.8 A16.0 16.0 0 1 1 197.8 345.8 A16.0 16.0 0 1 1 229.8 345.8Z" fill="#f5a07a" opacity="0.55"/><path d="M227.0 342.8 A15.5 15.5 0 1 1 196.0 342.8 A15.5 15.5 0 1 1 227.0 342.8Z" fill="url(#cIL)"/>
    <path d="M289.4 309.9 A22 18 -40 1 1 255.6 338.1 A22 18 -40 1 1 289.4 309.9Z" fill="url(#cOL)"/><path d="M284.4 316.2 A14.08 11.52 -40 1 1 262.8 334.3 A14.08 11.52 -40 1 1 284.4 316.2Z" fill="#f5a07a" opacity="0.55"/><path d="M282.1 314.3 A13.64 11.16 -40 1 1 261.2 331.9 A13.64 11.16 -40 1 1 282.1 314.3Z" fill="url(#cIL)"/>
    <path d="M344.4 368.1 A23 11 18 1 1 300.6 353.9 A23 11 18 1 1 344.4 368.1Z" fill="url(#cO)"/><path d="M333.9 365.1 A10.81 5.17 18 1 1 313.4 358.4 A10.81 5.17 18 1 1 333.9 365.1Z" fill="#ea7650" opacity="0.55"/><path d="M331.4 363.6 A10.35 4.95 18 1 1 311.7 357.3 A10.35 4.95 18 1 1 331.4 363.6Z" fill="url(#cI)"/>
    <path d="M267.0 361.0 A17 7 -62 1 1 251.0 391.0 A17 7 -62 1 1 267.0 361.0Z" fill="url(#cOL)"/><path d="M263.6 369.4 A7.99 3.29 -62 1 1 256.1 383.5 A7.99 3.29 -62 1 1 263.6 369.4Z" fill="#f5a07a" opacity="0.55"/><path d="M261.9 368.9 A7.65 3.15 -62 1 1 254.7 382.4 A7.65 3.15 -62 1 1 261.9 368.9Z" fill="url(#cIL)"/>
    <path d="M390.0 382.5 A19 17 0 1 1 352.0 382.5 A19 17 0 1 1 390.0 382.5Z" fill="url(#cO)"/><path d="M384.1 383.7 A12.16 10.88 0 1 1 359.8 383.7 A12.16 10.88 0 1 1 384.1 383.7Z" fill="#ea7650" opacity="0.55"/><path d="M382.0 381.6 A11.78 10.54 0 1 1 358.5 381.6 A11.78 10.54 0 1 1 382.0 381.6Z" fill="url(#cI)"/>
    <path d="M483.5 400.0 A36 38 0 1 1 411.5 400.0 A36 38 0 1 1 483.5 400.0Z" fill="url(#cO)"/><path d="M472.3 402.7 A23.04 24.32 0 1 1 426.3 402.7 A23.04 24.32 0 1 1 472.3 402.7Z" fill="#ea7650" opacity="0.55"/><path d="M468.4 398.1 A22.32 23.56 0 1 1 423.7 398.1 A22.32 23.56 0 1 1 468.4 398.1Z" fill="url(#cI)"/>
    <path d="M200.1 391.0 A22 15 -30 1 1 161.9 413.0 A22 15 -30 1 1 200.1 391.0Z" fill="url(#cOL)"/><path d="M194.3 396.0 A14.08 9.6 -30 1 1 169.9 410.1 A14.08 9.6 -30 1 1 194.3 396.0Z" fill="#f5a07a" opacity="0.55"/><path d="M191.9 394.4 A13.64 9.3 -30 1 1 168.3 408.1 A13.64 9.3 -30 1 1 191.9 394.4Z" fill="url(#cIL)"/>
    <path d="M326.6 405.8 A24 20 -20 1 1 281.4 422.2 A24 20 -20 1 1 326.6 405.8Z" fill="url(#cO)"/><path d="M319.6 410.1 A15.36 12.8 -20 1 1 290.8 420.7 A15.36 12.8 -20 1 1 319.6 410.1Z" fill="#ea7650" opacity="0.55"/><path d="M317.0 407.9 A14.879999999999999 12.4 -20 1 1 289.1 418.1 A14.879999999999999 12.4 -20 1 1 317.0 407.9Z" fill="url(#cI)"/>
    <path d="M262.5 442.5 A35 35 0 1 1 192.5 442.5 A35 35 0 1 1 262.5 442.5Z" fill="url(#cO)"/><path d="M251.7 444.9 A22.400000000000002 22.400000000000002 0 1 1 206.8 444.9 A22.400000000000002 22.400000000000002 0 1 1 251.7 444.9Z" fill="#ea7650" opacity="0.55"/><path d="M247.8 440.8 A21.7 21.7 0 1 1 204.4 440.8 A21.7 21.7 0 1 1 247.8 440.8Z" fill="url(#cI)"/>
    <path d="M399.5 449.0 A37 31 0 1 1 325.5 449.0 A37 31 0 1 1 399.5 449.0Z" fill="url(#cO)"/><path d="M388.0 451.2 A23.68 19.84 0 1 1 340.7 451.2 A23.68 19.84 0 1 1 388.0 451.2Z" fill="#ea7650" opacity="0.55"/><path d="M384.0 447.4 A22.94 19.22 0 1 1 338.1 447.4 A22.94 19.22 0 1 1 384.0 447.4Z" fill="url(#cI)"/>
    <path d="M312.4 475.9 A19 9 15 1 1 275.6 466.1 A19 9 15 1 1 312.4 475.9Z" fill="url(#cO)"/><path d="M303.6 473.9 A8.93 4.23 15 1 1 286.3 469.3 A8.93 4.23 15 1 1 303.6 473.9Z" fill="#ea7650" opacity="0.55"/><path d="M301.5 472.8 A8.55 4.05 15 1 1 285.0 468.3 A8.55 4.05 15 1 1 301.5 472.8Z" fill="url(#cI)"/>
    <path d="M396 513 Q414 478 459 466" fill="none" stroke="#d8462c" stroke-width="19" stroke-linecap="round"/><path d="M394 509 Q410 477 456 462" fill="none" stroke="#ec7048" stroke-width="5" stroke-linecap="round" opacity="0.8"/><path d="M401 514 Q419 485 459 471" fill="none" stroke="#c4382a" stroke-width="6" stroke-linecap="round" opacity="0.7"/>
    <path d="M215.0 514.4 A13 10 40 1 1 195.0 497.6 A13 10 40 1 1 215.0 514.4Z" fill="url(#cO)"/><path d="M210.3 510.6 A6.11 4.7 40 1 1 201.0 502.8 A6.11 4.7 40 1 1 210.3 510.6Z" fill="#ea7650" opacity="0.55"/><path d="M209.0 509.3 A5.8500000000000005 4.5 40 1 1 200.0 501.7 A5.8500000000000005 4.5 40 1 1 209.0 509.3Z" fill="url(#cI)"/>
    <path d="M276.4 523.7 A18 32 15 1 1 241.6 514.3 A18 32 15 1 1 276.4 523.7Z" fill="url(#cO)"/><path d="M271.0 524.2 A11.52 20.48 15 1 1 248.8 518.3 A11.52 20.48 15 1 1 271.0 524.2Z" fill="#ea7650" opacity="0.55"/><path d="M269.1 520.3 A11.16 19.84 15 1 1 247.5 514.5 A11.16 19.84 15 1 1 269.1 520.3Z" fill="url(#cI)"/>
    <path d="M372.0 534.0 A41 36 0 1 1 290.0 534.0 A41 36 0 1 1 372.0 534.0Z" fill="url(#cO)"/><path d="M359.3 536.5 A26.240000000000002 23.04 0 1 1 306.8 536.5 A26.240000000000002 23.04 0 1 1 359.3 536.5Z" fill="#ea7650" opacity="0.55"/><path d="M354.8 532.2 A25.419999999999998 22.32 0 1 1 303.9 532.2 A25.419999999999998 22.32 0 1 1 354.8 532.2Z" fill="url(#cI)"/>
  <clipPath id="ovlclip"><path d="M341 226 L378 268 L360 300 L328 332 L292 338 L281 374 L270 403 L257 426 C240 436 220 442 200 446 L150 458 L140 458 L140 220 Z"/></clipPath>
  <g clip-path="url(#ovlclip)"><circle cx="227.5" cy="442.5" r="35" fill="#f4c0b0" opacity="0.35"/></g>
  <!-- glare -->
  <path d="M295.0 238.0 C288.3 239.3 267.2 241.7 255.0 246.0 C242.8 250.3 231.2 258.0 222.0 264.0 C212.8 270.0 205.4 276.8 200.0 282.0 C194.6 287.2 193.2 289.5 189.5 295.0 C185.8 300.5 181.3 308.0 178.0 315.0 C174.7 322.0 171.9 329.5 169.7 337.0 C167.5 344.5 165.7 352.3 165.0 360.0 C164.3 367.7 165.3 379.2 165.4 383.0 C166.5 379.2 169.2 367.7 172.0 360.0 C174.8 352.3 178.4 345.0 182.4 337.0 C186.4 329.0 190.8 319.0 196.0 312.0 C201.2 305.0 207.8 300.3 213.5 295.0 C219.2 289.7 224.3 284.8 230.0 280.0 C235.7 275.2 240.7 271.5 247.4 266.5 C254.1 261.5 262.1 254.8 270.0 250.0 C277.9 245.2 290.8 240.0 295.0 238.0 Z" fill="#ffffff" opacity="0.96"/>
</g>

<!-- middle-top circle Hemologlogin -->
<g>
  <clipPath id="hcclip"><circle cx="575" cy="209" r="48"/></clipPath>
  <circle cx="575" cy="209" r="48.7" fill="#fdebdf"/>
  <g clip-path="url(#hcclip)"><ellipse cx="585" cy="226" rx="42" ry="30" fill="#f3d7c2" transform="rotate(-15 585 226)"/></g>
  <ellipse cx="580" cy="218" rx="42" ry="30" fill="url(#bigO)" transform="rotate(-15 580 218)"/>
  <ellipse cx="576" cy="214" rx="28" ry="18" fill="url(#bigI)" transform="rotate(-15 576 214)"/>
  <circle cx="575" cy="209" r="48.7" fill="none" stroke="#a8403a" stroke-width="1.5"/>
</g>
<path d="M624 200.5 L750 200.5" stroke="#a8403a" stroke-width="1.5" stroke-dasharray="8 4"/>
<text x="516.5" y="282.5" font-size="18.2" font-weight="bold" fill="#16263a" textLength="111.3" lengthAdjust="spacingAndGlyphs">Hemologlogin</text>

<!-- right top circle -->
<g>
  <clipPath id="ncclip"><circle cx="801" cy="206.7" r="50.3"/></clipPath>
  <circle cx="801" cy="206.7" r="51" fill="#fdebdf"/>
  <g clip-path="url(#ncclip)"><ellipse cx="810" cy="217" rx="42" ry="31" fill="#f3d7c2" transform="rotate(-40 810 217)"/></g>
  <ellipse cx="800" cy="206" rx="42" ry="31" fill="url(#bigO)" transform="rotate(-40 800 206)"/>
  <ellipse cx="795" cy="201" rx="27" ry="18" fill="url(#bigI)" transform="rotate(-40 795 201)"/>
  <circle cx="801" cy="206.7" r="51" fill="none" stroke="#a8403a" stroke-width="1.5"/>
</g>
<path d="M720 200.5 L750 200.5" stroke="#a8403a" stroke-width="1.5" stroke-dasharray="8 4"/>
<text x="766.7" y="139.5" font-size="18" font-weight="bold" fill="#16263a" textLength="68.1" lengthAdjust="spacingAndGlyphs">Nonmal</text>
<text x="757" y="282" font-size="18.5" font-weight="bold" fill="#16263a" textLength="89.0" lengthAdjust="spacingAndGlyphs">Abborrmall</text>
<text x="750" y="301.7" font-size="19" font-weight="bold" fill="#16263a" textLength="118.0" lengthAdjust="spacingAndGlyphs">red blod cells</text>

<!-- symptom circle -->
<g>
  <circle cx="885.6" cy="373" r="50.6" fill="url(#sun)" stroke="#a84238" stroke-width="1.6"/>
  <g opacity="0.55"><path d="M909.6 373.0L933.6 373.0M909.5 374.9L933.5 376.8M909.3 376.8L933.0 380.5M908.9 378.6L932.3 384.2M908.4 380.4L931.3 387.8M907.8 382.2L929.9 391.4M907.0 383.9L928.4 394.8M906.1 385.5L926.5 398.1M905.0 387.1L924.4 401.2M903.8 388.6L922.1 404.2M902.6 390.0L919.5 406.9M901.2 391.2L916.8 409.5M899.7 392.4L913.8 411.8M898.1 393.5L910.7 413.9M896.5 394.4L907.4 415.8M894.8 395.2L904.0 417.3M893.0 395.8L900.4 418.7M891.2 396.3L896.8 419.7M889.4 396.7L893.1 420.4M887.5 396.9L889.4 420.9M885.6 397.0L885.6 421.0M883.7 396.9L881.8 420.9M881.8 396.7L878.1 420.4M880.0 396.3L874.4 419.7M878.2 395.8L870.8 418.7M876.4 395.2L867.2 417.3M874.7 394.4L863.8 415.8M873.1 393.5L860.5 413.9M871.5 392.4L857.4 411.8M870.0 391.2L854.4 409.5M868.6 390.0L851.7 406.9M867.4 388.6L849.1 404.2M866.2 387.1L846.8 401.2M865.1 385.5L844.7 398.1M864.2 383.9L842.8 394.8M863.4 382.2L841.3 391.4M862.8 380.4L839.9 387.8M862.3 378.6L838.9 384.2M861.9 376.8L838.2 380.5M861.7 374.9L837.7 376.8M861.6 373.0L837.6 373.0M861.7 371.1L837.7 369.2M861.9 369.2L838.2 365.5M862.3 367.4L838.9 361.8M862.8 365.6L839.9 358.2M863.4 363.8L841.3 354.6M864.2 362.1L842.8 351.2M865.1 360.5L844.7 347.9M866.2 358.9L846.8 344.8M867.4 357.4L849.1 341.8M868.6 356.0L851.7 339.1M870.0 354.8L854.4 336.5M871.5 353.6L857.4 334.2M873.1 352.5L860.5 332.1M874.7 351.6L863.8 330.2M876.4 350.8L867.2 328.7M878.2 350.2L870.8 327.3M880.0 349.7L874.4 326.3M881.8 349.3L878.1 325.6M883.7 349.1L881.8 325.1M885.6 349.0L885.6 325.0M887.5 349.1L889.4 325.1M889.4 349.3L893.1 325.6M891.2 349.7L896.8 326.3M893.0 350.2L900.4 327.3M894.8 350.8L904.0 328.7M896.5 351.6L907.4 330.2M898.1 352.5L910.7 332.1M899.7 353.6L913.8 334.2M901.2 354.8L916.8 336.5M902.6 356.0L919.5 339.1M903.8 357.4L922.1 341.8M905.0 358.9L924.4 344.8M906.1 360.5L926.5 347.9M907.0 362.1L928.4 351.2M907.8 363.8L929.9 354.6M908.4 365.6L931.3 358.2M908.9 367.4L932.3 361.8M909.3 369.2L933.0 365.5M909.5 371.1L933.5 369.2" stroke="#f8b070" stroke-width="0.9" stroke-linecap="round" fill="none"/><path d="M897.6 373.5L925.6 374.6M897.5 374.4L925.3 377.7M897.4 375.3L924.8 380.8M897.1 376.3L924.1 383.9M896.9 377.2L923.1 386.9M896.5 378.0L921.9 389.8M896.1 378.9L920.5 392.6M895.6 379.7L918.8 395.2M895.0 380.4L917.0 397.8M894.4 381.2L915.0 400.2M893.7 381.8L912.7 402.4M893.0 382.4L910.3 404.4M892.3 383.0L907.8 406.3M891.5 383.5L905.1 407.9M890.6 383.9L902.3 409.3M889.7 384.3L899.4 410.5M888.8 384.6L896.4 411.5M887.9 384.8L893.4 412.2M887.0 384.9L890.3 412.7M886.1 385.0L887.1 413.0M885.1 385.0L884.0 413.0M884.2 384.9L880.9 412.7M883.3 384.8L877.8 412.2M882.3 384.5L874.7 411.5M881.4 384.3L871.7 410.5M880.6 383.9L868.8 409.3M879.7 383.5L866.0 407.9M878.9 383.0L863.4 406.2M878.2 382.4L860.8 404.4M877.4 381.8L858.4 402.4M876.8 381.1L856.2 400.1M876.2 380.4L854.2 397.7M875.6 379.7L852.3 395.2M875.1 378.9L850.7 392.5M874.7 378.0L849.3 389.7M874.3 377.1L848.1 386.8M874.0 376.2L847.1 383.8M873.8 375.3L846.4 380.8M873.7 374.4L845.9 377.7M873.6 373.5L845.6 374.5M873.6 372.5L845.6 371.4M873.7 371.6L845.9 368.3M873.8 370.7L846.4 365.2M874.1 369.7L847.1 362.1M874.3 368.8L848.1 359.1M874.7 368.0L849.3 356.2M875.1 367.1L850.7 353.4M875.6 366.3L852.4 350.8M876.2 365.6L854.2 348.2M876.8 364.8L856.2 345.8M877.5 364.2L858.5 343.6M878.2 363.6L860.9 341.6M878.9 363.0L863.4 339.7M879.7 362.5L866.1 338.1M880.6 362.1L868.9 336.7M881.5 361.7L871.8 335.5M882.4 361.4L874.8 334.5M883.3 361.2L877.8 333.8M884.2 361.1L880.9 333.3M885.1 361.0L884.1 333.0M886.1 361.0L887.2 333.0M887.0 361.1L890.3 333.3M887.9 361.2L893.4 333.8M888.9 361.5L896.5 334.5M889.8 361.7L899.5 335.5M890.6 362.1L902.4 336.7M891.5 362.5L905.2 338.1M892.3 363.0L907.8 339.8M893.0 363.6L910.4 341.6M893.8 364.2L912.8 343.6M894.4 364.9L915.0 345.9M895.0 365.6L917.0 348.3M895.6 366.3L918.9 350.8M896.1 367.1L920.5 353.5M896.5 368.0L921.9 356.3M896.9 368.9L923.1 359.2M897.2 369.8L924.1 362.2M897.4 370.7L924.8 365.2M897.5 371.6L925.3 368.3M897.6 372.5L925.6 371.5" stroke="#b83026" stroke-width="0.7" stroke-linecap="round" fill="none"/></g><circle cx="884" cy="373.5" r="9" fill="none" stroke="#c84a36" stroke-width="1.2"/><circle cx="884" cy="373.5" r="6" fill="#982a30"/>
</g>
<path d="M785 370.6 L835 370.6" stroke="#b04a40" stroke-width="1.4"/>
<text x="841.7" y="450" font-size="16.5" font-weight="bold" fill="#16263a" textLength="71.8" lengthAdjust="spacingAndGlyphs">symtomes</text>

<!-- drop circle -->
<g>
  <circle cx="851" cy="536" r="50" fill="#ffffff" stroke="#b04a40" stroke-width="1.5"/>
  <path d="M851.4 496 C845 515 826 528 826 548 C826 562 837 572 851.4 572 C866 572 877 562 877 548 C877 528 858 515 851.4 496 Z" fill="url(#drop)"/>
  <ellipse cx="839" cy="540" rx="3" ry="6" fill="#ffffff" opacity="0.85"/>
</g>
<text x="823" y="615.7" font-size="15.5" font-weight="bold" fill="#16263a" textLength="60.6" lengthAdjust="spacingAndGlyphs">abornal</text>
<text x="820" y="636.2" font-size="17.5" font-weight="bold" fill="#16263a" textLength="76.3" lengthAdjust="spacingAndGlyphs">blod cells</text>

<!-- bottom right circle -->
<g>
  <circle cx="835.6" cy="717.3" r="47.3" fill="#fefefe" stroke="#b5483e" stroke-width="7.5"/>
  <path d="M863.6 717.5L870.1 717.5M863.3 721.5L869.7 722.4M862.5 725.4L868.7 727.2M861.1 729.1L867.0 731.8M859.2 732.6L864.6 736.2M856.8 735.8L861.7 740.1M853.9 738.7L858.2 743.6M850.7 741.1L854.3 746.5M847.2 743.0L849.9 748.9M843.5 744.4L845.3 750.6M839.6 745.2L840.5 751.6M835.6 745.5L835.6 752.0M831.6 745.2L830.7 751.6M827.7 744.4L825.9 750.6M824.0 743.0L821.3 748.9M820.5 741.1L816.9 746.5M817.3 738.7L813.0 743.6M814.4 735.8L809.5 740.1M812.0 732.6L806.6 736.2M810.1 729.1L804.2 731.8M808.7 725.4L802.5 727.2M807.9 721.5L801.5 722.4M807.6 717.5L801.1 717.5M807.9 713.5L801.5 712.6M808.7 709.6L802.5 707.8M810.1 705.9L804.2 703.2M812.0 702.4L806.6 698.8M814.4 699.2L809.5 694.9M817.3 696.3L813.0 691.4M820.5 693.9L816.9 688.5M824.0 692.0L821.3 686.1M827.7 690.6L825.9 684.4M831.6 689.8L830.7 683.4M835.6 689.5L835.6 683.0M839.6 689.8L840.5 683.4M843.5 690.6L845.3 684.4M847.2 692.0L849.9 686.1M850.7 693.9L854.3 688.5M853.9 696.3L858.2 691.4M856.8 699.2L861.7 694.9M859.2 702.4L864.6 698.8M861.1 705.9L867.0 703.2M862.5 709.6L868.7 707.8M863.3 713.5L869.7 712.6" stroke="#f5be5c" stroke-width="3.2" stroke-linecap="round" fill="none"/>
  <circle cx="835.6" cy="717.5" r="33" fill="url(#spot)"/>
</g>
<path d="M886 718 L920 718" stroke="#b04a40" stroke-width="1.4" stroke-dasharray="8 4"/>
<text x="780" y="799.3" font-size="17.5" font-weight="bold" fill="#16263a" textLength="120.0" lengthAdjust="spacingAndGlyphs">Common syhots</text>
<text x="795.7" y="821.6" font-size="16.5" font-weight="bold" fill="#16263a" textLength="88.6" lengthAdjust="spacingAndGlyphs">thewtch aho</text>
<text x="802.6" y="842.4" font-size="17.5" font-weight="bold" fill="#16263a" textLength="80.0" lengthAdjust="spacingAndGlyphs">blod cells</text>

<!-- vessel & drop -->
<g fill="none" stroke="#a41e28" stroke-linecap="round">
  <path d="M583.3 296 L583.3 350" stroke-width="1" stroke="#b04a40"/>
  <path d="M583.3 553 L583.3 577" stroke-width="1" stroke="#b04a40"/>
  <rect x="578.5" y="349.6" width="10.8" height="37" fill="#a41e28" stroke="none"/>
  <rect x="580.5" y="351" width="2" height="34" fill="#d04a50" stroke="none" opacity="0.6"/>
  <path d="M583.3 385.5 C572 398 562 420 563.5 436 C565 452 575 463 583.3 471" stroke-width="5.5"/>
  <path d="M583.3 385.5 C595 395 604 410 603.5 426 C603 445 592 458 583.3 471" stroke-width="5.5" stroke="#8a1a24"/>
  <path d="M583.3 471 C590 490 601 515 599.5 532 C598.5 545 592 553 584.5 553 C576 553 568 545 567.5 533 C567 515 576 490 583.3 471" stroke-width="5"/>
  <path d="M578 394 C570 408 565 422 566 436 C567 448 574 458 581 466" stroke-width="1" stroke="#f4c8c0" opacity="0.9"/>
  <path d="M583 577 L559 577 C548 590 547 600 547 612 L547 660" stroke-width="1.4" stroke-dasharray="7 4" stroke="#b04a40" stroke-linecap="butt"/>
  <path d="M511 515 L511 570" stroke-width="1.4" stroke-dasharray="7 4" stroke="#b04a40" stroke-linecap="butt"/>
</g>
<path d="M582.5 585 C578 600 569 612 569 628 C569 637 575 643 582.5 643 C590 643 596 637 596 628 C596 612 587 600 582.5 585 Z" fill="url(#drop)"/>
<ellipse cx="575.5" cy="627" rx="2" ry="4" fill="#fff" opacity="0.7"/>

<!-- small red dots -->
<g>
  <ellipse cx="466.8" cy="607.2" rx="8" ry="7" fill="#b8302a" transform="rotate(30 466.8 607.2)"/>
  <ellipse cx="483.7" cy="627" rx="8" ry="6" fill="#b8302a"/>
  <ellipse cx="466.8" cy="646" rx="8.5" ry="6" fill="#b8302a" transform="rotate(-35 466.8 646)"/>
  <ellipse cx="496.8" cy="659.3" rx="9.5" ry="7" fill="#b8302a" transform="rotate(-50 496.8 659.3)"/>
  <ellipse cx="467" cy="674.3" rx="9" ry="7" fill="#b8302a" transform="rotate(20 467 674.3)"/>
  <g fill="#8e2020">
  <ellipse cx="466.8" cy="607.2" rx="4" ry="2.5" transform="rotate(30 466.8 607.2)"/>
  <ellipse cx="483.7" cy="627" rx="4" ry="2"/>
  <ellipse cx="466.8" cy="646" rx="4.5" ry="2" transform="rotate(-35 466.8 646)"/>
  <ellipse cx="496.8" cy="659.3" rx="5" ry="2.5" transform="rotate(-50 496.8 659.3)"/>
  <ellipse cx="467" cy="674.3" rx="5" ry="2.5" transform="rotate(20 467 674.3)"/>
  </g>
</g>
<!-- drops & vessels bottom middle -->
<g fill="none" stroke="#c8402e" stroke-width="1.8" stroke-linecap="round">
  <path d="M391.7 681 C385 684 375 686 367 689 C362 698 361 708 364 716 C366 724 370 730 376 734 C385 737 395 739 402 738.7 C406 733 410 728 412 724 C416 720 420 718 423 717.8 C428 714 434 710 437 705 C438 698 436 693 432 691 C426 690 422 696 421 704"/>
  <path d="M391.7 681 C398 678 405 676 412.6 674.3 C418 680 425 684 433 684 C440 683 445 681 448 679"/>
  <path d="M390 685 C391 693 393 700 397 705 M402 738.7 C400 745 398 752 397 758 M384 737 C382 744 380 750 378 756 M367 689 C362 690 357 691 353 691 M364 716 C360 716 356 716 352 716 M412 724 C420 730 428 730 436 728 C440 732 442 736 444 740 M437 705 C442 707 448 708 452 708 M370 730 C374 726 378 724 382 724"/>
  <path d="M376 660 L391.7 681 M422 655 L412.6 674.3" stroke-width="2.6"/>
  <path d="M506 592 L506 576 M506 592 L495 585 M506 592 L520 584 M506 592 L498 604 M506 592 L515 606 M506 592 L524 596 M495 585 L492 590 M520 584 L524 580 M498 604 L494 606 M515 606 L520 608 M500 588 C497 596 502 602 508 600 C514 598 514 590 508 587" stroke-width="1.3" stroke="#b8402e"/>
</g>
<g>
  <ellipse cx="376" cy="650" rx="13" ry="15.5" fill="#c02a28" transform="rotate(-25 376 650)"/>
  <ellipse cx="423" cy="642" rx="12.5" ry="15.5" fill="#c02a28" transform="rotate(15 423 642)"/>
  <ellipse cx="373" cy="645" rx="6" ry="8" fill="#d8483a" transform="rotate(-25 373 645)"/>
  <ellipse cx="420" cy="637" rx="5.5" ry="8" fill="#d8483a" transform="rotate(15 420 637)"/>
  <ellipse cx="379" cy="653" rx="6" ry="8" fill="#a41e22" transform="rotate(-25 379 653)" opacity="0.8"/>
  <ellipse cx="426" cy="646" rx="5" ry="8" fill="#a41e22" transform="rotate(15 426 646)" opacity="0.8"/>
</g>
<path d="M447.5 717.5 L490 717.5" stroke="#b04a40" stroke-width="1.4" stroke-dasharray="7 4"/>
<!-- bottom middle circle -->
<g>
  <circle cx="543.5" cy="716.7" r="53.3" fill="#9e3233" stroke="#ba4c48" stroke-width="2"/>
  <path d="M590 690 A53 53 0 0 1 520 765 L560 740 Z" fill="#86282c" opacity="0.55"/>
  <path d="M521 686 C528 676 542 676 548 690 C554 677 574 674 580 690 C586 706 570 722 556 738 C548 732 530 722 524 712 C518 702 517 694 521 686 Z" fill="none" stroke="#f4a848" stroke-width="4" stroke-dasharray="2 1.5"/>
  <path d="M521 686 C528 676 542 676 548 690 C554 677 574 674 580 690 C586 706 570 722 556 738 C548 732 530 722 524 712 C518 702 517 694 521 686 Z" fill="#f2a040"/>
  <path d="M525 689 C531 681 542 681 547 694 C553 682 570 680 575 693 C580 706 566 719 555 732 C546 726 532 717 527 708 C522 700 521 695 525 689 Z" fill="#e4442a"/>
  <path d="M512 718 C518 710 532 712 539 720 C546 730 540 745 528 746 C518 746 510 738 510 728 C510 724 511 720 512 718 Z" fill="#f07030"/>
  <path d="M514 720 C520 714 531 716 536 722 C542 731 537 742 528 743 C520 743 513 736 513 728 Z" fill="#a81c22"/>
</g>
<text x="505" y="796.8" font-size="18.5" font-weight="bold" fill="#16263a" textLength="78.7" lengthAdjust="spacingAndGlyphs">Abourmal</text>
<text x="483.7" y="818.9" font-size="18.5" font-weight="bold" fill="#16263a" textLength="126.8" lengthAdjust="spacingAndGlyphs">reds blood ceels</text>

<!-- MAN -->
<g>
  <!-- legs -->
  <path d="M657 552 L706 552 L698 866 L666 866 Z" fill="#333f44"/>
  <path d="M704 552 L762.5 552 L763 866 L732 866 Z" fill="#333f44"/>
  <path d="M688 552 L706 552 L698 866 L685 866 Z" fill="#283236"/>
  <path d="M748 552 L762.5 552 L763 866 L751 866 Z" fill="#283236"/>
  <path d="M706 575 L709 630 L732 866 L698 866 Z" fill="#f6e4d4"/>
  <path d="M667 580 L669 860" stroke="#5d6f7a" stroke-width="1.1"/>
  <path d="M717 600 L728 860" stroke="#5d6f7a" stroke-width="1.1"/>
  <!-- shoes -->
  <path d="M666 862 L698 862 L698 886 L634 886 C630 878 646 870 666 862 Z" fill="#232c30"/>
  <path d="M732 862 L763 862 L763 886 L709 886 C706 878 718 869 732 862 Z" fill="#232c30"/>
  <path d="M646 872 C655 868 664 866 672 866" stroke="#56646c" stroke-width="1.5" fill="none"/>
  <path d="M716 872 C724 867 732 865 740 865" stroke="#56646c" stroke-width="1.5" fill="none"/>
  <!-- left hand -->
  <path d="M632 548 L648 548 L650 585 C648 598 640 602 635 596 C630 585 628 565 632 548 Z" fill="#c98a5e"/>
  <!-- right hand -->
  <path d="M756 536 L767 536 L766 552 L757 553 Z" fill="#c27e56"/>
  <!-- jacket -->
  <path d="M675.3 330.9 L733.8 328.2 C748 333 760 337 766.4 341.8 C775 348 780 354 782.7 360.8 C788 380 790 395 790.8 401.6 L793.6 450.5 C792 480 790 500 788.1 510.3 C785 522 781 532 777.3 537.5 C774 542 770 545 766.4 545.7 L763 550 L755 556 C730 560 712 558 701 554 C690 558 670 556 652.2 553.8 L630.4 551 C630 520 631 480 632 450 L635.9 428.8 C637 395 639 375 641.3 363.5 C644 354 648 349 652 344.5 C660 337 668 333 675.3 330.9 Z" fill="#37454b"/>
  <!-- sleeves darker edge -->
  <path d="M776 352 C783 362 787 380 790.8 401.6 L793.6 450.5 C792 480 790 500 788.1 510.3 C785 522 781 532 777.3 537.5 C774 542 770 545 766.4 545.7 L762 540 C768 520 774 490 776 450 C777 420 776 385 770 355 Z" fill="#26323a"/>
  <path d="M652 344.5 C646 352 642 360 641.3 363.5 C639 375 637 395 635.9 428.8 L632 450 C631 480 630 520 630.4 551 L642 552 C641 520 641 480 643 440 C645 400 648 370 656 348 Z" fill="#2a363c"/>
  <!-- arm/torso boundaries -->
  <path d="M657.6 369 C655 420 653 480 654 548" stroke="#6a8290" stroke-width="1.2" fill="none" opacity="0.8"/>
  <path d="M755.5 374.4 C759 410 762 440 761 470 C760 500 759 520 758.2 532" stroke="#1f2a2e" stroke-width="2.5" fill="none"/>
  <path d="M762 456 L763.5 472" stroke="#f3e6da" stroke-width="1.6"/>
  <path d="M766 345 C772 352 776 360 778 372" stroke="#6a8290" stroke-width="1.1" fill="none" opacity="0.8"/>
  <!-- front opening & hem -->
  <path d="M695.7 428.8 C694 460 692 500 691.6 529.4 C692 540 696 550 701 554" stroke="#25313a" stroke-width="1.6" fill="none"/>
  <path d="M652 553.8 C668 556 685 557 700 554 C720 559 742 558 755 556" stroke="#25313a" stroke-width="2" fill="none"/>
  <!-- shirt -->
  <path d="M685 323.7 L727 323.7 L725 345 L719.8 357 L706 392 L698.3 392 L690.4 357 L686.5 340 Z" fill="#f4f4f2"/>
  <path d="M686 324 L693 346 L700 336 Z M727 324 L712 346 L705 336 Z" fill="#e6e8ea"/>
  <!-- tie -->
  <path d="M697 339 L705 339 L704 350 L706.5 395 L700 427 L694.5 395 L697.5 350 Z" fill="#c8343a"/>
  <path d="M697 339 L705 339 L704 350 L697.5 350 Z" fill="#a82a30"/>
  <!-- lapels -->
  <path d="M684.6 325.6 L676.7 330.9 L671.2 360.8 C673 380 676 393 679.4 401.6 C684 412 690 422 695.7 428.8 L693 410 L690.4 357 Z" fill="#2c383e"/>
  <path d="M726.6 323.7 L733.8 328.2 L736.5 355.3 C730 370 724 380 717.4 388 C710 400 704 412 698.4 423.3 L706 392 L719.8 357 Z" fill="#2c383e"/>
  <path d="M676.7 330.9 L671.2 360.8 C673 380 676 393 679.4 401.6 C684 412 690 422 695 428" stroke="#6a8290" stroke-width="1.1" fill="none"/>
  <path d="M733.8 328.2 L736.5 355.3 C730 370 724 380 717.4 388 C710 400 704 412 698.4 423.3" stroke="#6a8290" stroke-width="1.1" fill="none"/>
  <!-- pockets -->
  <path d="M655 495 C662 493 670 493 675.3 494.5 C674 500 668 505 660 505 C657 503 655 499 655 495 Z" fill="#2e3b41"/>
  <path d="M716 493 C726 492 736 492 742 493.5 C741 500 734 505 724 505 C719 503 716 498 716 493 Z" fill="#2e3b41"/>
  <path d="M725.6 394 L744.6 394" stroke="#2a363c" stroke-width="2.5"/>
  <!-- neck -->
  <path d="M689 312 L689.5 331 L727 331 L722 298 C716 308 706 317 696 319 Z" fill="#c48660"/>
  <path d="M689 314 C700 318 712 312 722 300 L723 312 C716 320 704 326 692 328 Z" fill="#a8603e" opacity="0.85"/>
  <!-- face -->
  <path d="M677.5 266 C676 275 675.5 285 676.3 297 C677 304 680 311 686 316 C690 319 695 320 699 319.5 C706 317 712 312 716 308 C719 305 721 302 722 298 L722 284 C718 280 714 276 712 272 C710 268 708 266 706 265 C700 264 694 266 688 265.5 C684 265.5 680 265.5 677.5 266 Z" fill="#cb9066"/>
  <!-- hair -->
  <path d="M662.6 253.7 C668 248 676 243 686 239 C695 236 705 234.5 713.4 236.4 C720 238 725 240 728 244 C735 250 739 258 739.5 268 C740 280 737 290 731.5 299 L727 297 L722 284 C718 280 714 276 712 272 C710 268 708 266 706 265 C700 264 694 266 688 265.5 C680 265 672 262 662.6 253.7 Z" fill="#1f2b2f"/>
  <path d="M723 242 L725 237 M726 244 L732 242" stroke="#1f2b2f" stroke-width="1.5" stroke-linecap="round"/>
  <path d="M668 250 C676 244 686 240 696 239" stroke="#4a5a60" stroke-width="1" fill="none" opacity="0.8"/>
  <ellipse cx="726" cy="290.5" rx="5" ry="9" fill="#c28058"/>
  <ellipse cx="726.5" cy="291" rx="2.2" ry="5" fill="#9a5a3c"/>
  <!-- glasses -->
  <circle cx="677.5" cy="282.4" r="7" fill="#d8a07a" fill-opacity="0.35" stroke="#5a2e1e" stroke-width="1.8"/>
  <circle cx="696" cy="282.4" r="7.5" fill="#d8a07a" fill-opacity="0.35" stroke="#5a2e1e" stroke-width="1.8"/>
  <path d="M684.5 281 L688.5 281 M703.5 282.4 L715 282.4" stroke="#5a2e1e" stroke-width="1.5"/>
  <path d="M682 293 C681 296 683 297.5 685 297" stroke="#9a5a3c" stroke-width="1.2" fill="none"/>
  <path d="M681 305 C683 303.5 686 303.5 688.5 305" stroke="#8a4030" stroke-width="1.3" fill="none"/>
  <!-- buttons -->
  <circle cx="697" cy="445.6" r="3.2" fill="#1e2528"/>
  <circle cx="697" cy="477.2" r="3.2" fill="#1e2528"/>
  <circle cx="697" cy="502.7" r="3.2" fill="#1e2528"/>
</g>

</svg>
</body></html>
